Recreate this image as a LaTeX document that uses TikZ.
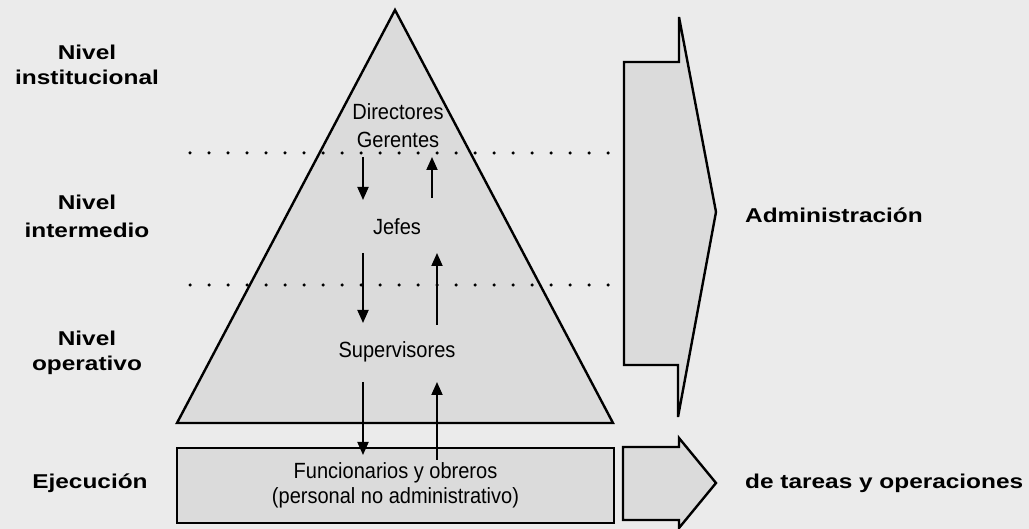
\documentclass[tikz,border=0pt]{standalone}
\usepackage{fontspec}
\setmainfont{Liberation Sans}
\newfontfamily\lblfont[FakeStretch=1.22]{Liberation Sans}
\newfontfamily\innerfont[FakeStretch=0.91]{Liberation Sans}
\usetikzlibrary{arrows.meta}
\definecolor{bgc}{gray}{0.92}
\definecolor{shapec}{gray}{0.86}
\tikzset{
  shapeline/.style={draw=black, line width=2.4pt, line join=miter},
  dotline/.style={line width=3.5pt, line cap=round, dash pattern=on 0pt off 19pt},
  flowarrow/.style={line width=1.9pt, -{Triangle[length=13pt,width=11pt]}},
  lbl/.style={font=\lblfont\bfseries\fontsize{20}{24}\selectfont, inner sep=0pt},
  innerlbl/.style={font=\innerfont\fontsize{22}{26}\selectfont, inner sep=0pt},
}
\begin{document}
\begin{tikzpicture}[x=1pt,y=-1pt]
\fill[bgc] (0,0) rectangle (1029,529);
\useasboundingbox (0,0) rectangle (1029,529);
% pyramid
\fill[shapec] (395,10) -- (613,423) -- (177,423) -- cycle;
% dotted level lines
\draw[dotline] (190,153) -- (620,153);
\draw[dotline] (190,285) -- (620,285);
\draw[shapeline] (395,10) -- (613,423) -- (177,423) -- cycle;
% big arrow
\draw[shapeline, fill=shapec] (624,62) -- (679,62) -- (679,17) -- (716,212) -- (678,417) -- (678,365) -- (624,365) -- cycle;
% small arrow
\draw[shapeline, fill=shapec] (623,447) -- (679,447) -- (679,438) -- (716,483) -- (679,528) -- (679,520) -- (623,520) -- cycle;
% bottom box
\node[shapeline, fill=shapec, minimum width=437pt, minimum height=75pt, inner sep=0pt,
      align=center, font=\innerfont\fontsize{22}{25}\selectfont] (func) at (395.5,485.5)
  {Funcionarios y obreros\\(personal no administrativo)};
% inner labels
\node[innerlbl] (dir) at (398,112) {Directores};
\node[innerlbl] (ger) at (398,140) {Gerentes};
\node[innerlbl] (jef) at (397,227) {Jefes};
\node[innerlbl] (sup) at (397,352) {Supervisores};
% arrow end points
\coordinate (d1s) at (363,157); \coordinate (d1e) at (363,200);
\coordinate (u1s) at (432,198); \coordinate (u1e) at (432,157);
\coordinate (d2s) at (363,253); \coordinate (d2e) at (363,323);
\coordinate (u2s) at (437,325); \coordinate (u2e) at (437,253);
\coordinate (d3s) at (363,382); \coordinate (d3e) at (363,455);
\coordinate (u3s) at (437,460); \coordinate (u3e) at (437,382);
\draw[flowarrow] (d1s) -- (d1e);
\draw[flowarrow] (u1s) -- (u1e);
\draw[flowarrow] (d2s) -- (d2e);
\draw[flowarrow] (u2s) -- (u2e);
\draw[flowarrow] (d3s) -- (d3e);
\draw[flowarrow] (u3s) -- (u3e);
% left labels
\node[lbl] (n1) at (87,52) {Nivel};
\node[lbl] (n1b) at (87,77) {institucional};
\node[lbl] (n2) at (87,202) {Nivel};
\node[lbl] (n2b) at (87,230) {intermedio};
\node[lbl] (n3) at (87,338) {Nivel};
\node[lbl] (n3b) at (87,365) {operativo};
\node[lbl] (ej) at (90,483) {Ejecución};
% right labels
\node[lbl, anchor=west] (adm) at (745,215) {Administración};
\node[lbl, anchor=west] (tar) at (745,483) {de tareas y operaciones};
\end{tikzpicture}
\end{document}
